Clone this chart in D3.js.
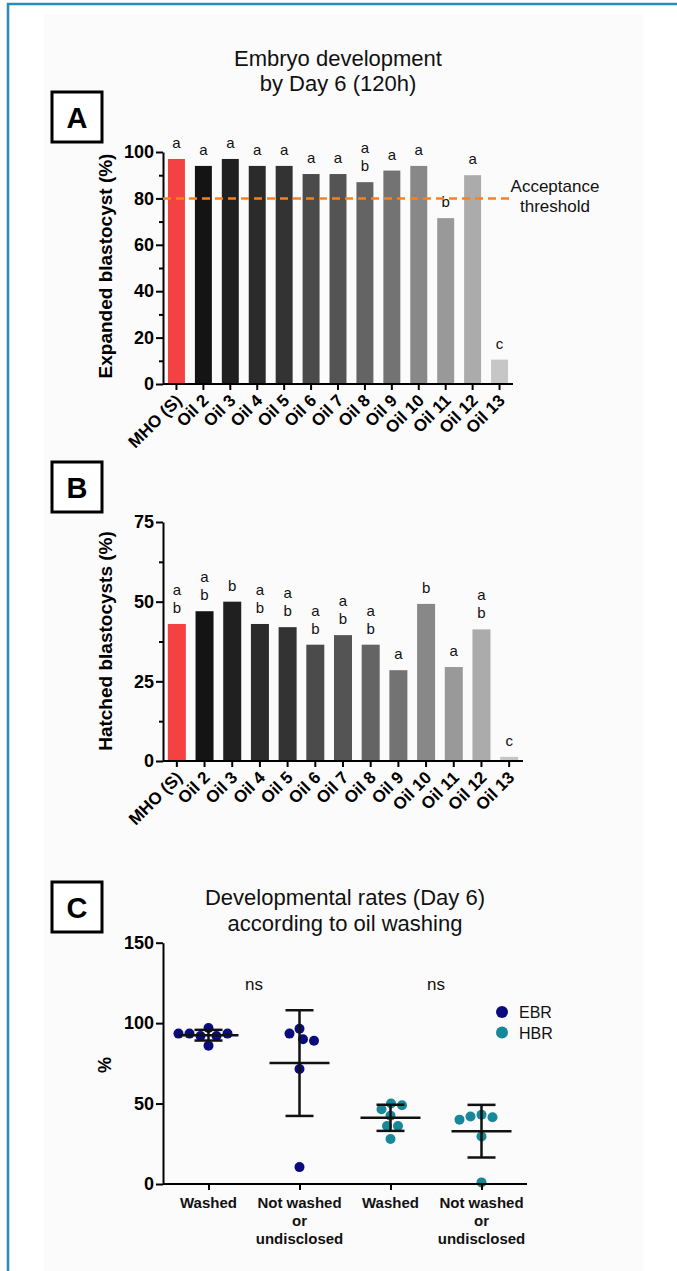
<!DOCTYPE html>
<html>
<head>
<meta charset="utf-8">
<style>
  body { margin: 0; background: #fff; }
  svg { display: block; font-family: "Liberation Sans", Arial, sans-serif; }
</style>
</head>
<body>
<script src="https://cdn.jsdelivr.net/npm/d3@7"></script>
<script>
// ---- data ----
var categories = ["MHO (S)", "Oil 2", "Oil 3", "Oil 4", "Oil 5", "Oil 6", "Oil 7",
                  "Oil 8", "Oil 9", "Oil 10", "Oil 11", "Oil 12", "Oil 13"];
var expandedValues = [97, 94, 97, 94, 94, 90.5, 90.5, 87, 92, 94, 71.5, 90, 10.5];
var expandedLetters = ["a", "a", "a", "a", "a", "a", "a", "ab", "a", "a", "b", "a", "c"];
var expandedTicks = [0, 20, 40, 60, 80, 100];
var thresholdValue = 80;

var hatchedValues = [43, 47, 50, 43, 42, 36.5, 39.5, 36.5, 28.5, 49.3, 29.5, 41.3, 1.3];
var hatchedLetters = ["ab", "ab", "b", "ab", "ab", "ab", "ab", "ab", "a", "b", "a", "ab", "c"];
var hatchedTicks = [0, 25, 50, 75];

var washLabels = [["Washed"], ["Not washed", "or", "undisclosed"], ["Washed"], ["Not washed", "or", "undisclosed"]];
var ebrWashed = [97, 86, 92, 92, 93.5, 93.5, 93.5];
var ebrNotWashed = [96.5, 93.5, 90, 89, 71.5, 10.5];
var hbrWashed = [28, 42.5, 46.5, 36, 36, 50, 49];
var hbrNotWashed = [43, 42, 41.5, 40, 29.5, 1];
var rateTicks = [0, 50, 100, 150];
var seriesNames = ["EBR", "HBR"];

// ---- styles ----
var barColors = ["#f44242", "#141414", "#202020", "#2b2b2b", "#333333", "#4b4b4b", "#545454",
                 "#646464", "#737373", "#888888", "#999999", "#ababab", "#c6c6c6"];
var ebrColor = "#0b0b7e";
var hbrColor = "#17879a";

var width = 677, height = 1271;
var svg = d3.select("body").append("svg")
    .attr("width", width)
    .attr("height", height);

// frame + light panel background
svg.append("rect").attr("x", 44).attr("y", 14).attr("width", 599).attr("height", height - 14)
    .attr("fill", "#fbfbfb");
svg.append("path").attr("d", "M8," + height + "V4H" + width)
    .attr("fill", "none").attr("stroke", "#2a8bb6").attr("stroke-width", 2.5);

function panelBox(y, letter) {
  svg.append("rect").attr("x", 52).attr("y", y).attr("width", 50).attr("height", 50)
      .attr("fill", "#fff").attr("stroke", "#000").attr("stroke-width", 3);
  svg.append("text").attr("x", 77).attr("y", y + 36).attr("text-anchor", "middle")
      .attr("font-size", 29).attr("font-weight", "bold").text(letter);
}

function styleAxis(g) {
  g.select(".domain").attr("stroke", "#000").attr("stroke-width", 2);
  g.selectAll(".tick line").attr("stroke", "#000").attr("stroke-width", 2);
  g.selectAll(".tick text").attr("fill", "#000").attr("font-weight", "bold")
      .attr("font-family", "Liberation Sans, Arial, sans-serif");
}

function barPanel(values, letters, ticks, minorTicks, yRange, xRange, pad, yLabel, labelY) {
  var x = d3.scaleBand().domain(categories).range(xRange)
      .paddingInner(pad).paddingOuter(pad / 2);
  var y = d3.scaleLinear().domain([0, ticks[ticks.length - 1]]).range(yRange);

  svg.selectAll(null).data(values).enter().append("rect")
      .attr("x", function(d, i) { return x(categories[i]); })
      .attr("y", function(d) { return y(d); })
      .attr("width", x.bandwidth())
      .attr("height", function(d) { return y(0) - y(d); })
      .attr("fill", function(d, i) { return barColors[i]; });

  // significance letters
  values.forEach(function(v, i) {
    var chars = letters[i].split("");
    chars.forEach(function(c, j) {
      svg.append("text")
          .attr("x", x(categories[i]) + x.bandwidth() / 2)
          .attr("y", y(v) - 11 - (chars.length - 1 - j) * 18)
          .attr("text-anchor", "middle").attr("font-size", 15).attr("fill", "#111")
          .text(c);
    });
  });

  var gy = svg.append("g").attr("transform", "translate(" + xRange[0] + ",0)")
      .call(d3.axisLeft(y).tickValues(ticks).tickSize(7).tickPadding(2).tickSizeOuter(0));
  gy.selectAll(".tick text").attr("font-size", 18);
  styleAxis(gy);
  var gm = svg.append("g").attr("transform", "translate(" + xRange[0] + ",0)")
      .call(d3.axisLeft(y).tickValues(minorTicks).tickSize(4).tickFormat(""));
  gm.select(".domain").remove();
  styleAxis(gm);

  var gx = svg.append("g").attr("transform", "translate(0," + y(0) + ")")
      .call(d3.axisBottom(x).tickSize(6).tickSizeOuter(0));
  gx.select(".domain").attr("d", "M" + xRange[0] + ",0H" + xRange[1]);
  gx.selectAll(".tick text").attr("font-size", 17)
      .attr("text-anchor", "end")
      .attr("x", -8).attr("y", 11).attr("dy", "0.35em")
      .attr("transform", "rotate(-45)");
  styleAxis(gx);

  svg.append("text")
      .attr("transform", "translate(105," + labelY + ") rotate(-90)")
      .attr("text-anchor", "middle").attr("dy", "0.35em")
      .attr("font-size", 19).attr("font-weight", "bold").text(yLabel);
  return {x: x, y: y};
}

// ---- panel A ----
svg.append("text").attr("x", 338).attr("y", 66).attr("text-anchor", "middle")
    .attr("font-size", 22).attr("fill", "#111").text("Embryo development");
svg.append("text").attr("x", 338).attr("y", 91).attr("text-anchor", "middle")
    .attr("font-size", 22).attr("fill", "#111").text("by Day 6 (120h)");
panelBox(92, "A");
var pa = barPanel(expandedValues, expandedLetters, expandedTicks, [10, 30, 50, 70, 90],
    [384, 152], [163, 513], 0.37, "Expanded blastocyst (%)", 266);

svg.append("line")
    .attr("x1", 163).attr("x2", 513)
    .attr("y1", pa.y(thresholdValue)).attr("y2", pa.y(thresholdValue))
    .attr("stroke", "#f5821f").attr("stroke-width", 2.5).attr("stroke-dasharray", "8,5");
svg.append("text").attr("x", 555).attr("y", 192).attr("text-anchor", "middle")
    .attr("font-size", 17).attr("fill", "#111").text("Acceptance");
svg.append("text").attr("x", 555).attr("y", 212).attr("text-anchor", "middle")
    .attr("font-size", 17).attr("fill", "#111").text("threshold");

// ---- panel B ----
panelBox(462, "B");
barPanel(hatchedValues, hatchedLetters, hatchedTicks, [12.5, 37.5, 62.5],
    [761, 522], [163, 523], 0.35, "Hatched blastocysts (%)", 641);

// ---- panel C ----
panelBox(882, "C");
svg.append("text").attr("x", 345).attr("y", 905).attr("text-anchor", "middle")
    .attr("font-size", 22).attr("fill", "#111").text("Developmental rates (Day 6)");
svg.append("text").attr("x", 345).attr("y", 931).attr("text-anchor", "middle")
    .attr("font-size", 22).attr("fill", "#111").text("according to oil washing");

var xc = d3.scalePoint().domain([0, 1, 2, 3]).range([163, 527]).padding(0.5);
var yc = d3.scaleLinear().domain([0, 150]).range([1184, 942.7]);

var groups = [
  {vals: ebrWashed, color: ebrColor},
  {vals: ebrNotWashed, color: ebrColor},
  {vals: hbrWashed, color: hbrColor},
  {vals: hbrNotWashed, color: hbrColor}
];

// simple beeswarm so dots do not overlap
function swarm(values, cx, r) {
  var placed = [];
  values.forEach(function(v) {
    var cy = yc(v), off = 0;
    for (var k = 0; k < 400; k++) {
      off = (k % 2 ? -1 : 1) * Math.ceil(k / 2) * 0.5;
      var ok = placed.every(function(p) {
        var dx = p.x - (cx + off), dy = p.y - cy;
        return dx * dx + dy * dy >= (2 * r + 1) * (2 * r + 1);
      });
      if (ok) break;
    }
    placed.push({x: cx + off, y: cy});
  });
  return placed;
}

groups.forEach(function(g, i) {
  var pts = swarm(g.vals, xc(i), 5);
  svg.selectAll(null).data(pts).enter().append("circle")
      .attr("cx", function(d) { return d.x; })
      .attr("cy", function(d) { return d.y; })
      .attr("r", 5).attr("fill", g.color);

  var m = d3.mean(g.vals), sd = d3.deviation(g.vals), cx = xc(i);
  var eb = svg.append("g").attr("stroke", "#111").attr("stroke-width", 2.5);
  eb.append("line").attr("x1", cx - 30).attr("x2", cx + 30).attr("y1", yc(m)).attr("y2", yc(m));
  eb.append("line").attr("x1", cx).attr("x2", cx).attr("y1", yc(m - sd)).attr("y2", yc(m + sd));
  eb.append("line").attr("x1", cx - 14).attr("x2", cx + 14).attr("y1", yc(m + sd)).attr("y2", yc(m + sd));
  eb.append("line").attr("x1", cx - 14).attr("x2", cx + 14).attr("y1", yc(m - sd)).attr("y2", yc(m - sd));
});

var gyc = svg.append("g").attr("transform", "translate(163,0)")
    .call(d3.axisLeft(yc).tickValues(rateTicks).tickSize(7).tickPadding(2).tickSizeOuter(0));
gyc.selectAll(".tick text").attr("font-size", 18);
styleAxis(gyc);

var gxc = svg.append("g").attr("transform", "translate(0," + yc(0) + ")")
    .call(d3.axisBottom(xc).tickSize(6).tickSizeOuter(0).tickFormat(""));
gxc.select(".domain").attr("d", "M163,0H527");
styleAxis(gxc);
washLabels.forEach(function(lines, i) {
  var t = svg.append("text").attr("x", xc(i)).attr("y", 1208).attr("text-anchor", "middle")
      .attr("font-size", 15).attr("font-weight", "bold").attr("fill", "#111");
  lines.forEach(function(l, j) {
    t.append("tspan").attr("x", xc(i)).attr("dy", j === 0 ? 0 : 18).text(l);
  });
});

svg.append("text")
    .attr("transform", "translate(105,1065) rotate(-90)")
    .attr("text-anchor", "middle").attr("dy", "0.35em")
    .attr("font-size", 18).attr("font-weight", "bold").text("%");

[[0, 1], [2, 3]].forEach(function(p) {
  svg.append("text").attr("x", (xc(p[0]) + xc(p[1])) / 2).attr("y", 990)
      .attr("text-anchor", "middle").attr("font-size", 17).attr("fill", "#111").text("ns");
});

seriesNames.forEach(function(s, i) {
  svg.append("circle").attr("cx", 502).attr("cy", 1012 + i * 20.5).attr("r", 6)
      .attr("fill", i === 0 ? ebrColor : hbrColor);
  svg.append("text").attr("x", 519).attr("y", 1018 + i * 20.5)
      .attr("font-size", 16).attr("fill", "#111").text(s);
});
</script>
</body>
</html>
